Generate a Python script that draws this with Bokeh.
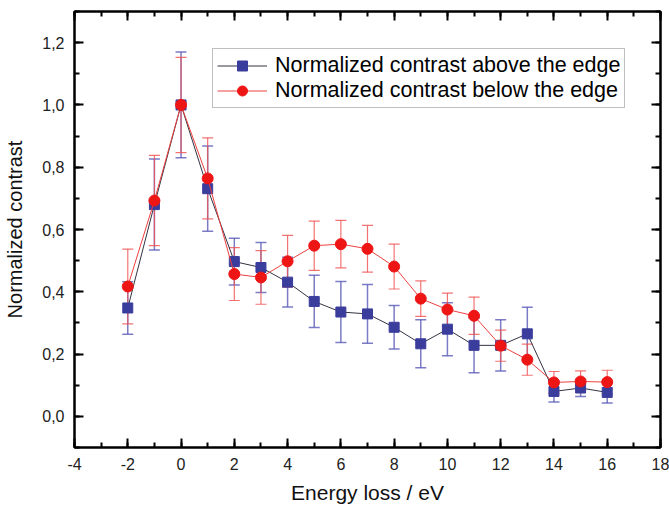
from bokeh.plotting import figure
from bokeh.models import (ColumnDataSource, Whisker, TeeHead, FixedTicker, LinearAxis,
                          CustomJSTickFormatter, Range1d, Legend, LegendItem)
from bokeh.embed import file_html
from bokeh.resources import INLINE

energy = [-2, -1, 0, 1, 2, 3, 4, 5, 6, 7, 8, 9, 10, 11, 12, 13, 14, 15, 16]
above = [0.348, 0.680, 1.0, 0.731, 0.497, 0.478, 0.431, 0.369, 0.335, 0.329, 0.286,
         0.233, 0.280, 0.228, 0.228, 0.265, 0.080, 0.091, 0.077]
above_err = [0.084, 0.146, 0.17, 0.137, 0.075, 0.08, 0.08, 0.084, 0.098, 0.094, 0.07,
             0.077, 0.085, 0.088, 0.082, 0.085, 0.034, 0.027, 0.034]
below = [0.417, 0.693, 1.0, 0.764, 0.457, 0.446, 0.498, 0.548, 0.553, 0.538, 0.481,
         0.378, 0.343, 0.323, 0.227, 0.182, 0.109, 0.112, 0.110]
below_err = [0.12, 0.145, 0.153, 0.13, 0.085, 0.086, 0.083, 0.079, 0.076, 0.075, 0.072,
             0.057, 0.053, 0.06, 0.05, 0.05, 0.035, 0.034, 0.038]

x_ticks = [-4, -2, 0, 2, 4, 6, 8, 10, 12, 14, 16, 18]
y_ticks = [0.0, 0.2, 0.4, 0.6, 0.8, 1.0, 1.2]
label_above = "Normalized contrast above the edge"
label_below = "Normalized contrast below the edge"

FONT = "Liberation Sans"
BLUE = "#3a3d9c"
RED = "#ee1515"

p = figure(width=669, height=508, output_backend="svg", toolbar_location=None,
           x_range=Range1d(-4, 18), y_range=Range1d(-0.1, 1.3),
           min_border_left=74, min_border_right=9, min_border_top=11, min_border_bottom=61,
           x_axis_label="Energy loss / eV", y_axis_label="Normalized contrast")
p.grid.visible = False
p.outline_line_color = "black"
p.outline_line_width = 2
p.background_fill_color = "white"
p.border_fill_color = "white"

yfmt = CustomJSTickFormatter(code="return tick.toFixed(1).replace('.', ',');")
xfmt = CustomJSTickFormatter(code="return tick.toFixed(0);")
blank = CustomJSTickFormatter(code="return '';")
xticker = FixedTicker(ticks=x_ticks, minor_ticks=list(range(-4, 19)))
yticker = FixedTicker(ticks=y_ticks, minor_ticks=[round(-0.1 + 0.1 * i, 1) for i in range(15)])

def style(ax):
    ax.axis_line_width = 2
    ax.axis_line_color = "black"
    ax.major_tick_in = 9
    ax.major_tick_out = 0
    ax.minor_tick_in = 5
    ax.minor_tick_out = 0
    ax.major_tick_line_width = 2
    ax.minor_tick_line_width = 2
    ax.major_label_text_font = FONT
    ax.major_label_text_color = "#222222"

xa = p.xaxis[0]
xa.ticker = xticker
xa.formatter = xfmt
style(xa)
xa.major_label_text_font_size = "16px"
xa.major_label_standoff = 10
xa.axis_label_text_font = FONT
xa.axis_label_text_font_size = "21px"
xa.axis_label_text_font_style = "normal"
xa.axis_label_text_color = "#111111"
xa.axis_label_standoff = 8

ya = p.yaxis[0]
ya.ticker = yticker
ya.formatter = yfmt
style(ya)
ya.major_label_text_font_size = "16px"
ya.major_label_standoff = 10
ya.axis_label_text_font = FONT
ya.axis_label_text_font_size = "20px"
ya.axis_label_text_font_style = "normal"
ya.axis_label_text_color = "#111111"
ya.axis_label_standoff = 13

top = LinearAxis(ticker=xticker, formatter=blank)
style(top)
top.major_label_standoff = 0
p.add_layout(top, "above")
right = LinearAxis(ticker=yticker, formatter=blank)
style(right)
right.major_label_standoff = 0
p.add_layout(right, "right")

src_a = ColumnDataSource(dict(x=energy, y=above,
                              lo=[v - e for v, e in zip(above, above_err)],
                              hi=[v + e for v, e in zip(above, above_err)]))
src_b = ColumnDataSource(dict(x=energy, y=below,
                              lo=[v - e for v, e in zip(below, below_err)],
                              hi=[v + e for v, e in zip(below, below_err)]))

la = p.line("x", "y", source=src_a, line_color="#333344", line_width=1)
sa = p.scatter("x", "y", source=src_a, marker="square", size=10, fill_color=BLUE, line_color=BLUE)
wa = Whisker(base="x", upper="hi", lower="lo", source=src_a, line_color="#5a5ab8", line_alpha=0.8,
             line_width=1.5,
             upper_head=TeeHead(size=11, line_color="#5a5ab8", line_alpha=0.8, line_width=1.5),
             lower_head=TeeHead(size=11, line_color="#5a5ab8", line_alpha=0.8, line_width=1.5))
p.add_layout(wa)

lb = p.line("x", "y", source=src_b, line_color="#ee4040", line_width=1)
sb = p.scatter("x", "y", source=src_b, marker="circle", size=11, fill_color=RED, line_color=RED)
wb = Whisker(base="x", upper="hi", lower="lo", source=src_b, line_color="#f05050", line_alpha=0.8,
             line_width=1.2,
             upper_head=TeeHead(size=11, line_color="#f05050", line_alpha=0.8, line_width=1.2),
             lower_head=TeeHead(size=11, line_color="#f05050", line_alpha=0.8, line_width=1.2))
p.add_layout(wb)

legend = Legend(items=[LegendItem(label=label_above, renderers=[la, sa]),
                       LegendItem(label=label_below, renderers=[lb, sb])],
                location=(138, 339))
legend.label_text_font = FONT
legend.label_text_font_size = "21.5px"
legend.label_text_color = "black"
legend.glyph_width = 50
legend.glyph_height = 25
legend.label_height = 25
legend.label_standoff = 8
legend.spacing = 0
legend.padding = 4
legend.margin = 0
legend.border_line_color = "#808080"
legend.border_line_width = 1
legend.background_fill_alpha = 1
p.add_layout(legend, "center")

open("out.html", "w").write(file_html(p, INLINE))
